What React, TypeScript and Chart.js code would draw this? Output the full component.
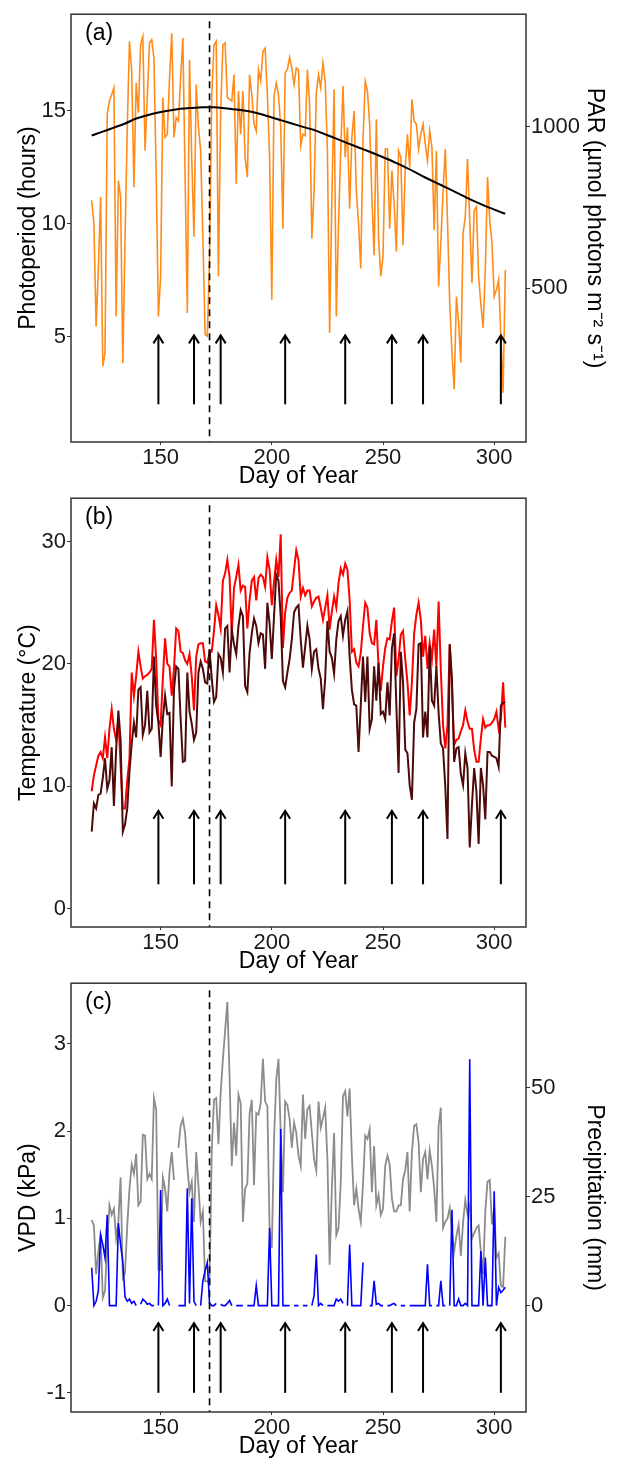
import { useEffect, useRef } from "react";
import { Chart, registerables } from "chart.js";
Chart.register(...registerables);

const FONT = "'Liberation Sans', Arial, Helvetica, sans-serif";
const AXIS_COLOR = "#333333";
const TICK_COLOR = "#1a1a1a";

// ---------- data ----------
const DAY_START = 119; // first day of year in the series (one value per day)
const X_MIN = 109.7;
const X_MAX = 314.3;
const X_TICKS = [150, 200, 250, 300];
const SOLSTICE_DAY = 172;
const ARROW_DAYS = [149, 165, 177, 206, 233, 254, 268, 303];

// Panel (a)
const PHOTO_DAYS = [119, 124, 129, 134, 139, 144, 149, 154, 159, 164, 169, 174, 179, 184, 189, 194, 199, 204, 209, 214, 219, 224, 229, 234, 239, 244, 249, 254, 259, 264, 269, 274, 279, 284, 289, 294, 299, 304, 305];
const PHOTOPERIOD = [13.9, 14.07, 14.25, 14.43, 14.65, 14.8, 14.92, 15.01, 15.08, 15.12, 15.15, 15.15, 15.11, 15.05, 14.98, 14.87, 14.73, 14.58, 14.43, 14.28, 14.14, 13.95, 13.76, 13.56, 13.37, 13.18, 12.98, 12.77, 12.54, 12.3, 12.04, 11.8, 11.57, 11.33, 11.08, 10.86, 10.66, 10.47, 10.44];
const PAR = [
  772, 700, 381, 560, 782, 258, 300, 1040, 1080, 1100,
  1121, 412, 833, 782, 268, 650, 1000, 1265, 1172, 813,
  1136, 1044, 1254, 1280, 926, 1090, 1260, 1270, 1213, 850,
  412, 536, 1090, 967, 977, 1150, 1290, 967, 1028, 1018,
  1150, 1275, 850, 423, 1208, 900, 659, 1131, 1000, 926,
  659, 356, 351, 597, 1100, 1254, 1265, 536, 1049, 1254,
  1260, 1090, 1085, 1080, 1162, 823, 1111, 977, 1111, 905,
  844, 1162, 1100, 1008, 987, 1177, 1141, 1234, 1244, 1100,
  905, 464, 1095, 1136, 1100, 1000, 684, 1167, 1177, 1215,
  1182, 1131, 1182, 1177, 941, 977, 972, 1177, 1070, 654,
  800, 1105, 1162, 1121, 1198, 1141, 926, 361, 772, 1116,
  412, 700, 926, 1126, 905, 998, 746, 967, 1049, 802,
  700, 561, 957, 1141, 1111, 1008, 782, 602, 1023, 659,
  536, 597, 931, 931, 684, 864, 761, 613, 926, 905,
  633, 874, 977, 874, 1085, 1018, 1008, 931, 977, 1008,
  946, 895, 987, 936, 680, 926, 505, 639, 800, 931,
  710, 454, 300, 187, 474, 392, 269, 669, 721, 900,
  710, 515, 741, 752, 536, 450, 377, 556, 844, 710,
  639, 474, 495, 526, 351, 176, 556,
];
const A_LEFT_TICKS = [5, 10, 15];
const A_RIGHT_TICKS = [500, 1000];
const A_MIN = 0.33;
const A_MAX = 19.27;
const PAR_PER_HOUR = 70;

// Panel (b)
const TMAX = [
  9.6, 10.9, 11.7, 12.5, 12.8, 12.3, 14.0, 12.3, 14.7, 16.3,
  14.7, 13.8, 15.5, 11.7, 8.2, 8.2, 10.5, 12.3, 19.3, 17.4,
  19.0, 21.0, 19.8, 18.8, 19.0, 19.1, 19.3, 19.6, 23.6, 20.4,
  15.4, 15.0, 18.8, 22.1, 20.0, 19.8, 17.4, 19.6, 22.9, 22.7,
  21.0, 20.9, 20.3, 20.0, 20.8, 19.0, 16.2, 20.6, 21.6, 21.7,
  21.7, 20.2, 20.1, 20.9, 21.0, 22.7, 24.8, 24.0, 22.9, 26.8,
  27.4, 28.5, 27.1, 22.4, 26.2, 27.1, 28.1, 26.0, 26.4, 26.3,
  22.9, 25.2, 26.8, 27.1, 25.2, 27.0, 27.3, 27.1, 26.3, 28.7,
  27.7, 24.8, 26.7, 28.5, 27.1, 30.6, 21.3, 24.2, 25.4, 25.8,
  26.0, 27.7, 29.3, 28.5, 25.5, 26.2, 25.6, 26.0, 26.0, 24.7,
  25.1, 25.4, 25.5, 24.6, 23.6, 24.6, 25.6, 22.8, 24.3, 25.5,
  24.6, 26.6, 27.8, 27.3, 28.2, 27.7, 25.2, 21.0, 21.2, 20.1,
  19.8, 20.9, 23.1, 25.0, 24.6, 22.5, 21.7, 21.6, 23.6, 19.8,
  17.8, 19.8, 21.3, 22.1, 22.0, 23.5, 24.6, 19.0, 20.4, 22.4,
  22.7, 20.4, 18.5, 15.8, 18.5, 22.5, 24.0, 25.0, 23.6, 20.6,
  22.3, 19.6, 21.7, 20.4, 22.8, 19.7, 25.1, 19.5, 15.0, 13.1,
  15.0, 21.6, 18.0, 13.4, 13.8, 13.9, 14.5, 15.0, 16.2, 15.3,
  14.7, 14.7, 13.0, 12.0, 12.0, 13.9, 15.5, 14.8, 15.0, 15.0,
  15.2, 15.5, 16.1, 14.7, 15.5, 18.5, 14.8,
];
const TMIN = [
  6.3, 8.6, 8.2, 9.3, 9.4, 10.7, 12.3, 9.8, 10.5, 13.2,
  8.4, 13.0, 16.2, 13.8, 6.3, 6.9, 8.2, 11.2, 13.5, 15.2,
  14.0, 17.9, 18.1, 14.2, 15.0, 17.8, 14.4, 14.7, 20.6, 16.6,
  15.2, 12.4, 15.5, 17.4, 15.9, 16.0, 10.0, 17.9, 19.8, 19.6,
  15.5, 12.0, 12.1, 19.3, 16.1, 15.1, 13.8, 14.4, 19.3, 20.2,
  19.6, 18.5, 18.4, 21.2, 18.8, 16.9, 17.3, 20.8, 20.5, 19.3,
  22.9, 23.1, 19.3, 22.8, 21.6, 20.8, 23.1, 24.4, 23.9, 18.2,
  17.7, 20.9, 22.5, 23.7, 23.1, 21.7, 22.5, 22.4, 19.6, 25.0,
  23.3, 20.4, 23.9, 27.3, 26.8, 23.9, 18.6, 18.1, 19.3, 20.4,
  22.0, 24.2, 24.6, 24.8, 22.0, 19.7, 21.4, 23.1, 22.0, 19.6,
  21.0, 21.2, 19.6, 18.8, 16.3, 18.8, 23.5, 21.0, 20.5, 19.2,
  22.0, 23.5, 23.9, 22.3, 23.6, 24.3, 20.6, 17.9, 16.7, 16.6,
  12.8, 16.6, 20.6, 16.9, 20.6, 14.7, 15.5, 19.8, 17.0, 20.1,
  15.9, 16.1, 15.5, 18.5, 15.8, 21.3, 22.5, 16.6, 11.1, 21.0,
  18.5, 13.0, 12.7, 10.1, 8.9, 15.2, 16.3, 21.6, 21.7, 14.0,
  16.1, 14.0, 21.5, 17.0, 16.6, 19.8, 16.0, 13.5, 13.1, 10.0,
  5.7, 21.6, 18.8, 12.0, 13.1, 13.2, 11.0, 10.1, 12.7, 11.5,
  5.0, 8.5, 11.5, 9.6, 5.3, 11.5, 10.1, 7.3, 12.8, 12.8,
  12.5, 12.4, 12.3, 11.6, 16.6, 16.8, 16.9,
];
const B_TICKS = [0, 10, 20, 30];
const B_MIN = -1.49;
const B_MAX = 33.54;

// Panel (c)
const VPD = [
  0.98, 0.92, 0.36, 0.62, 0.81, 0.09, 0.17, 0.74, 1.15, 1.04,
  1.11, 0.77, 0.96, 1.47, 0.32, 0.38, 0.92, 1.34, 1.62, 1.51,
  1.74, 1.15, 1.19, 1.96, 1.95, 1.45, 1.51, 1.45, 2.38, 2.25,
  0.41, 0.41, 1.47, 1.34, 1.08, 1.53, 1.76, 1.44, null, 1.81,
  2.06, 2.14, 1.98, 1.6, 1.3, 1.42, 0.96, 1.76, 1.38, 0.96,
  1.08, 0.28, 0.28, 0.25, 1.79, 2.36, 2.38, 1.85, 2.44, 2.82,
  3.15, 3.48, 2.63, 1.6, 2.1, 1.72, 2.42, 2.32, 0.96, 1.34,
  1.4, 2.2, 2.36, 1.38, 2.21, 2.19, 2.32, 2.83, 2.34, 2.29,
  0.89, 0.66, 1.91, 2.59, 2.83, 1.98, 1.3, 2.34, 2.3, 2.14,
  1.81, 2.1, 1.98, 1.72, 1.6, 2.42, 1.91, 2.25, 2.29, 1.98,
  1.68, 1.55, 2.34, 2.04, 2.15, 2.27, 1.68, 0.47, 1.34, 1.98,
  0.81, 0.89, 1.42, 2.4, 2.46, 2.17, 2.49, 1.72, 1.15, 1.34,
  1.11, 0.96, 1.38, 1.95, 1.91, 2.02, 1.3, 1.83, 1.15, 1.27,
  1.04, 1.11, 1.6, 1.72, 1.62, 1.23, 1.08, 1.08, 1.15, 1.15,
  1.45, 1.55, 1.76, 1.08, 1.76, 2.06, 2.08, 1.87, 1.3, 1.68,
  1.76, 1.45, 1.78, 1.6, 1.35, 0.96, 2.06, 2.27, 0.89, 0.96,
  1.0, 1.12, 0.85, 0.62, 0.8, 0.93, 0.57, 0.95, 1.21, 1.05,
  1.15, 0.77, 0.83, 0.89, 0.92, 0.62, 0.36, 1.08, 1.42, 1.44,
  0.93, 1.12, 0.55, 0.6, 0.23, 0.21, 0.79,
];
const PRECIP = [
  8.7, 0, 1, 3.4, 16.3, 14.0, 11, 20.8, 0, 0,
  0, 0, 18.9, 14, 10, 2, 1, 1.5, 0.5, 1,
  0, null, 0.3, 1.5, 1, 0.3, 0.5, 0, 0, null,
  0, 26.5, 0, 0.5, 1.5, 0, null, 2.7, null, 0,
  0, 0, 0, 26.9, 0.5, 24.6, 1, 0, null, 0,
  5.7, 8, 9.9, 0.5, 0, 0, 0.5, null, 0.3, 0,
  0, 0.5, 1.2, 0, null, 0, 0, 0, 0, null,
  0, 0, 0, 0, 4.6, 0, 0, 0, 0, 0,
  17.8, 0, 0, 0, 0, 40.5, 0, 0, 0, 0,
  null, 0, 0, 0, null, 0, 0, 0, null, 0,
  2.3, 11.7, 0, 0.5, 0, null, 0, 0, 0, 0,
  1.5, 1, 1.5, 0.5, null, 0, 14.0, 0, 0, 0,
  0, 0, 9.9, null, null, 0, 0, 5.7, 0.3, 0.5,
  0, 0, null, 0, 0, 0.3, 0.5, 0, null, 0,
  0, 0, null, 0, 0, 0, 0, 0, 0, 0,
  0, 9.5, 0, 0, null, 0, 0, 5.7, 0, 0,
  null, 0, 22.0, 0, 0, 1.5, 0, 0, 0.5, 0,
  56.5, 0, 0, 0, 0, 12.5, 0, 11.0, 0, 0,
  0, 26.2, 0, 4.2, 3, 3.5, 4.2,
];
const C_LEFT_TICKS = [-1, 0, 1, 2, 3];
const C_RIGHT_TICKS = [0, 25, 50];
const C_MIN = -1.22;
const C_MAX = 3.697;
const MM_PER_KPA = 20;

// ---------- helpers ----------
const toXY = (arr: (number | null)[]) => arr.map((v, i) => ({ x: DAY_START + i, y: v }));

const decorPlugin = {
  id: "decor",
  afterDatasetsDraw(chart: any, _args: any, opts: any) {
    const { ctx, chartArea, scales } = chart;
    const { left, right, top, bottom } = chartArea;
    const xs = scales.x;
    const ys = scales.y;
    ctx.save();
    // dashed solstice line
    const sx = xs.getPixelForValue(SOLSTICE_DAY);
    ctx.beginPath();
    ctx.setLineDash([7, 5]);
    ctx.lineWidth = 1.6;
    ctx.strokeStyle = "#000";
    ctx.moveTo(sx, top + 7);
    ctx.lineTo(sx, bottom);
    ctx.stroke();
    ctx.setLineDash([]);
    // arrows
    const yTail = ys.getPixelForValue(opts.arrowFrom);
    const yTip = ys.getPixelForValue(opts.arrowTo);
    ctx.lineWidth = 2;
    ctx.strokeStyle = "#000";
    ctx.lineJoin = "miter";
    for (const d of ARROW_DAYS) {
      const px = xs.getPixelForValue(d);
      ctx.beginPath();
      ctx.moveTo(px, yTail);
      ctx.lineTo(px, yTip);
      ctx.stroke();
      ctx.beginPath();
      ctx.moveTo(px - 5, yTip + 8);
      ctx.lineTo(px, yTip);
      ctx.lineTo(px + 5, yTip + 8);
      ctx.stroke();
    }
    // panel frame
    ctx.strokeStyle = AXIS_COLOR;
    ctx.lineWidth = 1.5;
    ctx.strokeRect(left, top, right - left, bottom - top);
    // panel label
    ctx.font = `23px ${FONT}`;
    ctx.fillStyle = "#000";
    ctx.textAlign = "left";
    ctx.textBaseline = "middle";
    ctx.fillText(opts.label, left + 14, top + 19);
    ctx.restore();
  },
};

function xAxis() {
  return {
    type: "linear",
    position: "bottom",
    min: X_MIN,
    max: X_MAX,
    afterBuildTicks: (s: any) => {
      s.ticks = X_TICKS.map((v) => ({ value: v }));
    },
    afterFit: (s: any) => {
      s.height = 46;
    },
    grid: { display: true, drawOnChartArea: false, drawTicks: true, tickLength: 3, color: AXIS_COLOR, lineWidth: 1 },
    border: { display: false },
    ticks: { font: { family: FONT, size: 22 }, color: TICK_COLOR, padding: 0, maxRotation: 0, autoSkip: false, callback: (v: any) => String(v) },
    title: { display: true, text: "Day of Year", font: { family: FONT, size: 23, lineHeight: 1 }, color: "#000", padding: { top: 0, bottom: 0 } },
  };
}

function yAxis(position: string, min: number, max: number, ticks: number[], title: string, width: number, titlePad: number) {
  return {
    type: "linear",
    position,
    min,
    max,
    afterBuildTicks: (s: any) => {
      s.ticks = ticks.map((v) => ({ value: v }));
    },
    afterFit: (s: any) => {
      s.width = width;
    },
    grid: { display: true, drawOnChartArea: false, drawTicks: true, tickLength: 4, color: AXIS_COLOR, lineWidth: 1 },
    border: { display: false },
    ticks: { font: { family: FONT, size: 22 }, color: TICK_COLOR, padding: 1, autoSkip: false, callback: (v: any) => String(v) },
    title: { display: true, text: title, font: { family: FONT, size: 23, lineHeight: 1 }, color: "#000", padding: { top: titlePad, bottom: 0 } },
  };
}

function baseOptions(padTop: number, padBottom: number, padRight: number, scales: any, decor: any) {
  return {
    responsive: false,
    maintainAspectRatio: false,
    devicePixelRatio: 1,
    animation: false,
    layout: { padding: { top: padTop, bottom: padBottom, left: 0, right: padRight } },
    elements: { point: { radius: 0 }, line: { tension: 0 } },
    plugins: { legend: { display: false }, tooltip: { enabled: false }, decor },
    scales,
  };
}

function configA(): any {
  return {
    type: "line",
    data: {
      datasets: [
        {
          data: PHOTO_DAYS.map((d, i) => ({ x: d, y: PHOTOPERIOD[i] })),
          borderColor: "#000",
          borderWidth: 2,
          yAxisID: "y",
          cubicInterpolationMode: "monotone",
          order: 0,
        },
        { data: toXY(PAR), borderColor: "#FF8C1A", borderWidth: 1.6, yAxisID: "y1", order: 1 },
      ],
    },
    options: baseOptions(9, 1, 0, {
      x: xAxis(),
      y: yAxis("left", A_MIN, A_MAX, A_LEFT_TICKS, "Photoperiod (hours)", 71, 17),
      y1: yAxis("right", A_MIN * PAR_PER_HOUR, A_MAX * PAR_PER_HOUR, A_RIGHT_TICKS, "PAR (µmol photons m⁻² s⁻¹)", 94, 14.5),
    }, { label: "(a)", arrowFrom: 2, arrowTo: 5.05 }),
    plugins: [decorPlugin],
  };
}

function configB(): any {
  return {
    type: "line",
    data: {
      datasets: [
        { data: toXY(TMIN), borderColor: "#4d0a0a", borderWidth: 2, yAxisID: "y", order: 0 },
        { data: toXY(TMAX), borderColor: "#FF0000", borderWidth: 2, yAxisID: "y", order: 1 },
      ],
    },
    options: baseOptions(10, 0, 94, {
      x: xAxis(),
      y: yAxis("left", B_MIN, B_MAX, B_TICKS, "Temperature (°C)", 71, 17),
    }, { label: "(b)", arrowFrom: 2, arrowTo: 8 }),
    plugins: [decorPlugin],
  };
}

function configC(): any {
  return {
    type: "line",
    data: {
      datasets: [
        { data: toXY(PRECIP), borderColor: "#0000FF", borderWidth: 1.6, yAxisID: "y1", order: 0 },
        { data: toXY(VPD), borderColor: "#8c8c8c", borderWidth: 1.8, yAxisID: "y", order: 1 },
      ],
    },
    options: baseOptions(10, 0, 0, {
      x: xAxis(),
      y: yAxis("left", C_MIN, C_MAX, C_LEFT_TICKS, "VPD (kPa)", 71, 17),
      y1: yAxis("right", C_MIN * MM_PER_KPA, C_MAX * MM_PER_KPA, C_RIGHT_TICKS, "Precipitation (mm)", 94, 14.5),
    }, { label: "(c)", arrowFrom: -1, arrowTo: -0.2 }),
    plugins: [decorPlugin],
  };
}

function Panel({ top, height, build }: { top: number; height: number; build: () => any }) {
  const ref = useRef<HTMLCanvasElement | null>(null);
  useEffect(() => {
    if (!ref.current) return;
    const chart = new Chart(ref.current, build());
    return () => chart.destroy();
  }, []);
  return (
    <canvas
      ref={ref}
      width={620}
      height={height}
      style={{ position: "absolute", left: 0, top, width: 620, height, display: "block" }}
    />
  );
}

export default function App() {
  return (
    <div style={{ position: "absolute", left: 0, top: 0, width: 620, height: 1458, background: "#fff" }}>
      <Panel top={0} height={489} build={configA} />
      <Panel top={484} height={489} build={configB} />
      <Panel top={969} height={489} build={configC} />
    </div>
  );
}
